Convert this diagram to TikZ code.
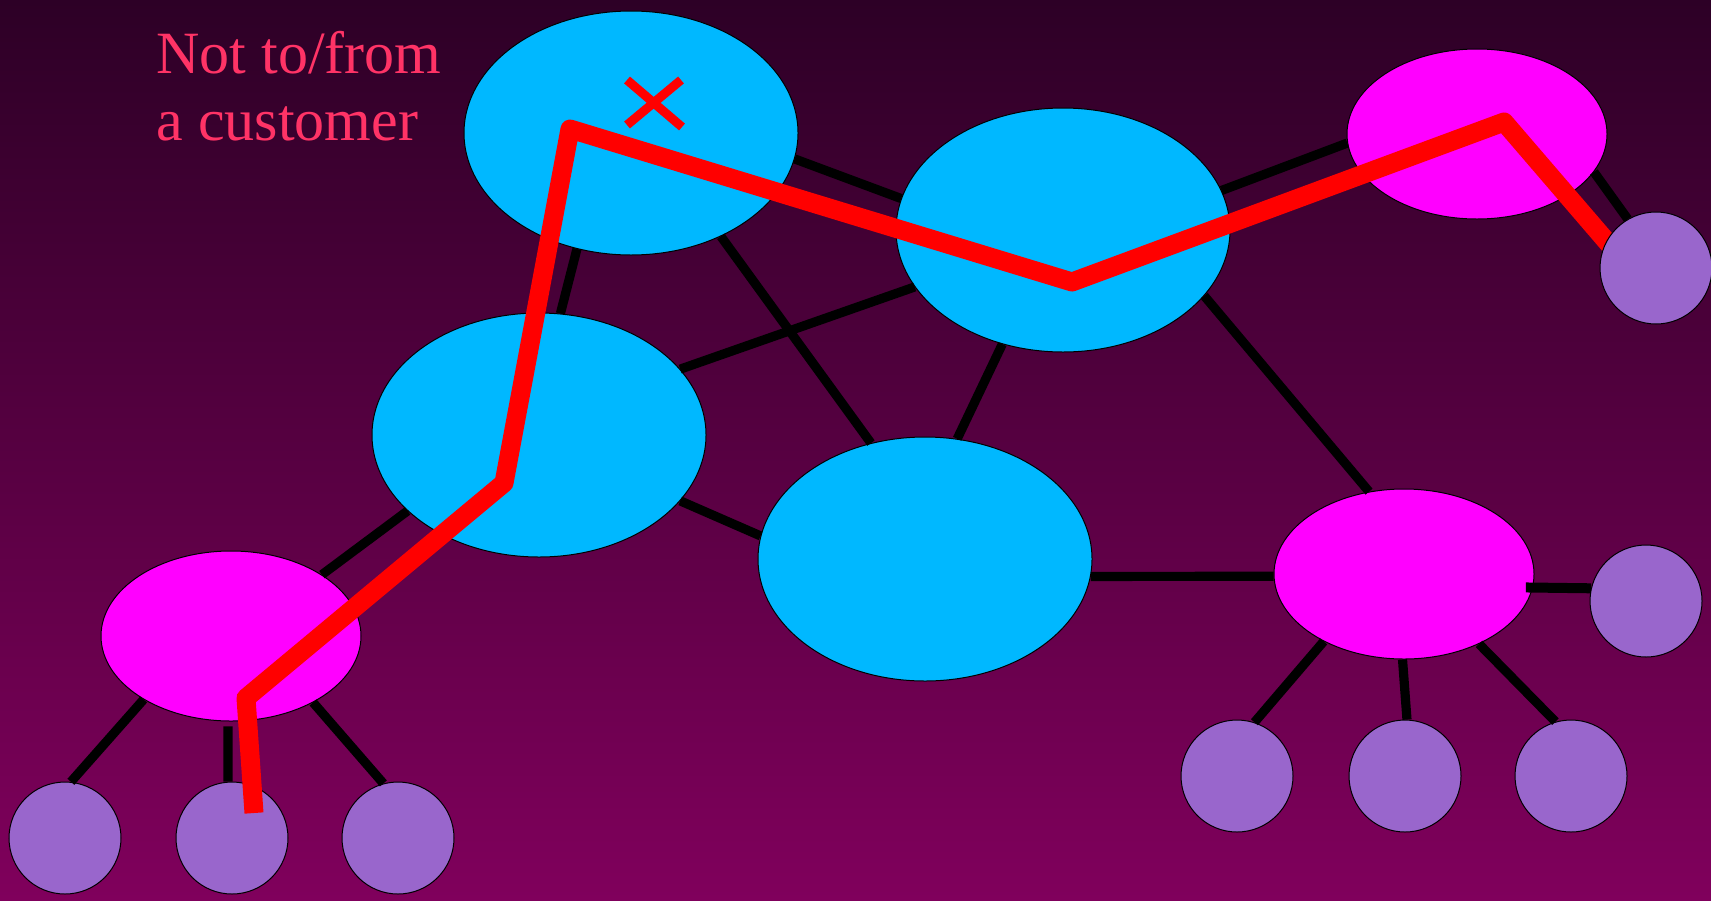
\documentclass[tikz,border=0pt]{standalone}
\usepackage{fontspec}
\setmainfont{Liberation Serif}
\usetikzlibrary{shapes.geometric}
\definecolor{bgtop}{RGB}{45,0,38}
\definecolor{bgbot}{RGB}{128,0,92}
\definecolor{ispblue}{RGB}{0,184,255}
\definecolor{custpink}{RGB}{255,0,255}
\definecolor{hostpurple}{RGB}{153,102,204}
\definecolor{notered}{RGB}{255,51,102}

\begin{document}
\begin{tikzpicture}[x=0.5pt, y=-0.5pt,
  core/.style={ellipse, draw=black, line width=0.5pt, fill=ispblue, minimum width=167pt, minimum height=122pt, inner sep=0pt},
  cust/.style={ellipse, draw=black, line width=0.5pt, fill=custpink, minimum width=130pt, minimum height=85pt, inner sep=0pt},
  hostnode/.style={circle, draw=black, line width=0.5pt, fill=hostpurple, minimum size=56pt, inner sep=0pt},
  link/.style={black, line width=4.6pt},
  route/.style={red, line width=9.5pt, line join=round},
  cross/.style={red, line width=4.5pt}]
\shade[top color=bgtop, bottom color=bgbot] (0,0) rectangle (1711,900);
\useasboundingbox (0,0) rectangle (1711,900);

% backbone
\node[core] (A) at (631,133) {};
\node[core] (B) at (1063,230) {};
\node[core] (C) at (539,435) {};
\node[core] (D) at (925,559) {};
% customers
\node[cust] (E) at (1477,134) {};
\node[cust] (F) at (231,636) {};
\node[cust] (G) at (1404,574) {};
% hosts
\node[hostnode] (P2) at (1646,601) {};
\node[hostnode] (P3) at (1237,776) {};
\node[hostnode] (P4) at (1405,776) {};
\node[hostnode] (P5) at (1571,776) {};
\node[hostnode] (P6) at (65,838) {};
\node[hostnode] (P7) at (232,838) {};
\node[hostnode] (P8) at (398,838) {};

\draw[link] (A.-9) -- (B.169);
\draw[link] (A.-115) -- (C.80);
\draw[link] (A.-49) -- (D.115);
\draw[link] (C.25) -- (B.-159);
\draw[link] (B.-118) -- (D.75);
\draw[link] (B.-25) -- (G.113);
\draw[link] (B.14) -- (E.184);
\draw[link] (C.-25) -- (D.172);
\draw[link] (C.-150) -- (F.34);
\draw[link] (D.-6.5) -- (G.181.7);
\draw[link, line width=5pt, shorten <=-3.5pt] (G.-6.6) -- (P2.167);
\draw[link] (G.-140) -- (P3.72);
\draw[link] (G.-91) -- (P4.88);
\draw[link] (G.-43) -- (P5.106);
\draw[link] (F.-144) -- (P6.84);
\draw[link, shorten <=2.5pt] (F.-92) -- (P7.94);
\draw[link] (F.-39) -- (P8.105);

\node[anchor=base west, inner sep=0pt, align=left, text=notered, font=\fontsize{30}{33.5}\selectfont] (note) at (156,140) {Not to/from\\a customer};
\draw[cross] (627,80) -- (682,127);
\draw[cross] (627,125) -- (681,80);

% path that is not allowed
\coordinate (r0) at (254,813);
\coordinate (r1) at (246,698);
\coordinate (r2) at (504,483);
\coordinate (r3) at (570,129);
\coordinate (r4) at (1072,282);
\coordinate (r5) at (1504,122);
\coordinate (r6) at (1614,250);
\draw[route] (r0) -- (r1) -- (r2) -- (r3) -- (r4) -- (r5) -- (r6);

\node[hostnode] (P1) at (1656,268) {};
\draw[link] (E.-18) -- (P1.120);
\end{tikzpicture}
\end{document}
